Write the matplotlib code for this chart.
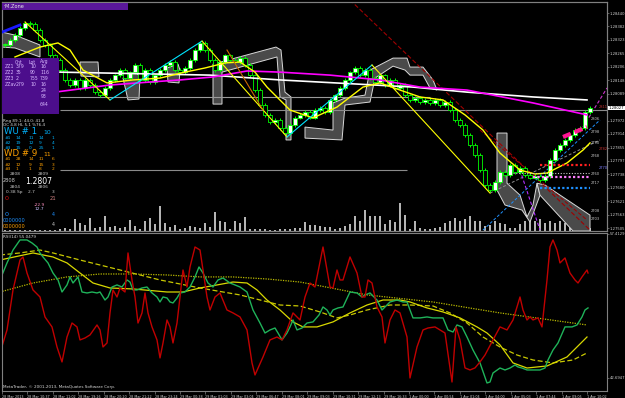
import numpy as np
import matplotlib
matplotlib.use("Agg")
import matplotlib.pyplot as plt
from matplotlib.patches import Polygon, Rectangle
from matplotlib.transforms import blended_transform_factory

# ---------------- data ----------------
closes = [
    1.28301, 1.28323, 1.28344, 1.28375, 1.28397, 1.28392, 1.28366, 1.28323, 1.28301, 1.28257,
    1.28236, 1.28192, 1.28149, 1.28127, 1.28149, 1.28114, 1.28149, 1.28127, 1.28097, 1.28083,
    1.28114, 1.28149, 1.28170, 1.28192, 1.28157, 1.28183, 1.28214, 1.28149, 1.28192, 1.28140,
    1.28170, 1.28192, 1.28214, 1.28227, 1.28192, 1.28183, 1.28201, 1.28236, 1.28279, 1.28310,
    1.28279, 1.28236, 1.28192, 1.28227, 1.28257, 1.28236, 1.28227, 1.28244, 1.28214, 1.28170,
    1.28105, 1.28040, 1.27997, 1.27966, 1.27975, 1.27940, 1.27918, 1.27953, 1.27984, 1.27997,
    1.28010, 1.27984, 1.28018, 1.28027, 1.28010, 1.28062, 1.28083, 1.28114, 1.28149, 1.28183,
    1.28201, 1.28170, 1.28192, 1.28157, 1.28140, 1.28170, 1.28127, 1.28149, 1.28114, 1.28127,
    1.28083, 1.28062, 1.28070, 1.28053, 1.28062, 1.28049, 1.28062, 1.28040, 1.28053, 1.28018,
    1.27975, 1.27953, 1.27910, 1.27866, 1.27823, 1.27757, 1.27692, 1.27670, 1.27705, 1.27749,
    1.27736, 1.27779, 1.27749, 1.27766, 1.27736, 1.27723, 1.27731, 1.27714, 1.27731, 1.27801,
    1.27844, 1.27866, 1.27888, 1.27910, 1.27931, 1.27940, 1.28010, 1.28027,
]
volumes = [
    10, 10, 10, 10, 10, 10, 10, 10, 10, 10,
    10, 20, 30, 20, 120, 80, 60, 130, 30, 40,
    150, 40, 50, 30, 40, 110, 50, 20, 100, 130,
    70, 250, 80, 40, 60, 20, 30, 50, 40, 30,
    80, 40, 190, 100, 90, 20, 100, 80, 140, 20,
    20, 20, 20, 10, 10, 20, 20, 20, 30, 30,
    90, 60, 60, 50, 40, 40, 20, 30, 50, 70,
    150, 100, 210, 150, 150, 150, 70, 110, 90, 280,
    160, 20, 100, 30, 20, 20, 30, 40, 80, 100,
    130, 100, 120, 150, 100, 100, 50, 60, 100, 80,
    70, 30, 30, 70, 100, 120, 100, 120, 80, 100,
    80, 100, 80, 100, 130, 130, 100, 30,
]

ma_yellow = [(3, 1.28249), (8, 1.28292), (11.6, 1.28310), (14, 1.28279), (16.6, 1.28192),
             (21.4, 1.28136), (26.6, 1.28149), (32, 1.28157), (37, 1.28183), (41, 1.28201),
             (45, 1.28223), (48, 1.28227), (51, 1.28183), (53.4, 1.28118), (58, 1.28018),
             (62.6, 1.27984), (67.4, 1.28031), (72.6, 1.28118), (76, 1.28136), (80, 1.28105),
             (84, 1.28075), (88.6, 1.28062), (93, 1.27997), (96.6, 1.27931), (100, 1.27831),
             (104, 1.27757), (107, 1.27740), (109.4, 1.27744), (113.4, 1.27788), (116.6, 1.27844),
             (118, 1.27875)]
ma_magenta = [(11, 1.28096), (22, 1.28127), (30, 1.28140), (36, 1.28149), (42.6, 1.28162),
              (49.4, 1.28188), (56, 1.28183), (66, 1.28170), (76, 1.28149), (84, 1.28118),
              (93.4, 1.28105), (106.6, 1.28049), (117.4, 1.27997)]
ma_white = [(12, 1.28183), (42, 1.28170), (56, 1.28149), (82.6, 1.28118), (93.4, 1.28096),
            (106.6, 1.28075), (117.4, 1.28062)]
zigzag = [(5, 1.28401), (22, 1.28062), (40.4, 1.28318), (57.4, 1.27901), (74.4, 1.28214), (98, 1.27657)]

bands = [
    [(0.4, 1.28357), (3, 1.28344), (8, 1.28301), (8, 1.28249), (3, 1.28288), (0.4, 1.28292)],
    [(16, 1.28227), (19.6, 1.28227), (19.8, 1.28162), (16.2, 1.28166)],
    [(24.6, 1.28157), (27, 1.28183), (28, 1.28166), (27.8, 1.28066), (25.6, 1.28062)],
    [(33.4, 1.28201), (35.6, 1.28218), (36, 1.28192), (35.8, 1.28136), (33.6, 1.28140)],
    [(42.6, 1.28218), (55.2, 1.28292), (56.2, 1.28279), (57, 1.28096), (58.2, 1.28075),
     (58.2, 1.27888), (57.2, 1.27888), (57.2, 1.28062), (56, 1.28075), (55.4, 1.28249),
     (44.4, 1.28183), (44.4, 1.28044), (42.6, 1.28044)],
    [(61, 1.27944), (66.6, 1.27931), (66.6, 1.28049), (69, 1.28070), (73, 1.28083),
     (74, 1.28192), (78.6, 1.28244), (81.4, 1.28244), (82, 1.28205), (84.6, 1.28205),
     (86.6, 1.28149), (87.4, 1.28105), (86, 1.28114), (84.6, 1.28170), (82, 1.28170),
     (81, 1.28192), (78.6, 1.28209), (75, 1.28157), (74, 1.28053), (69, 1.28040),
     (68.4, 1.27888), (61, 1.27896)],
    [(99.4, 1.27918), (101.4, 1.27918), (101.4, 1.27700), (104, 1.27648), (105.4, 1.27553),
     (106.6, 1.27605), (107.4, 1.27700), (108, 1.27648), (106, 1.27531), (104.4, 1.27583),
     (101, 1.27605), (99.4, 1.27670)],
    [(107.4, 1.27700), (109, 1.27692), (118, 1.27561), (118, 1.27492), (114.6, 1.27492), (108, 1.27648)],
]

red_osc = [(0, 45.25), (1.4, 47.60), (2.6, 51.69), (4, 54.75), (4.6, 55.06), (5.4, 53.42), (6.6, 51.69),
           (8, 50.97), (9, 48.93), (10.4, 47.91), (11.4, 45.86), (12.4, 44.33), (13.4, 46.88), (14.4, 48.31),
           (15.4, 47.91), (16, 46.58), (17, 46.78), (18, 47.09), (19.4, 48.11), (20, 47.60), (20.6, 45.86),
           (21.4, 46.27), (22, 49.34), (22.6, 51.69), (23.4, 50.97), (24, 51.89), (25, 51.48), (25.6, 55.47),
           (26.4, 52.71), (27, 50.97), (27.6, 48.31), (28.4, 49.34), (29, 51.38), (29.6, 49.34), (30.4, 47.91),
           (31.4, 46.58), (32, 44.74), (32.6, 46.27), (33.4, 48.62), (34, 47.91), (34.6, 46.27), (35.4, 48.31),
           (36, 50.97), (36.6, 53.73), (37.4, 51.99), (38, 54.04), (39, 56.08), (40, 55.77), (40.6, 53.73),
           (41.4, 50.97), (42, 49.64), (43, 50.97), (44, 51.38), (45.4, 49.64), (46.6, 49.34), (48, 48.93),
           (49.4, 47.60), (50.4, 44.23), (51, 43.00), (52.6, 44.84), (54, 46.58), (55.4, 46.88), (56.4, 46.58),
           (57.4, 47.60), (58.6, 49.34), (60, 48.62), (61, 50.97), (62, 52.40), (63, 51.99), (64.6, 56.08),
           (66, 51.99), (66.6, 51.89), (67.4, 53.73), (68, 52.71), (68.6, 52.71), (70, 55.06), (71.4, 53.42),
           (72.4, 50.97), (73, 50.97), (73.6, 52.71), (74.4, 52.40), (75.4, 49.95), (76.4, 48.93), (77, 46.27),
           (78, 48.62), (79, 49.64), (80, 49.34), (81.4, 46.88), (82, 42.69), (83.4, 45.86), (84.6, 47.60),
           (85.6, 47.80), (87, 47.91), (88, 47.60), (89, 47.29), (90.4, 42.28), (91.2, 47.91), (92, 46.58),
           (93, 43.72), (94, 43.51), (95, 43.72), (96, 44.33), (97, 45.04), (98.6, 46.58), (100, 47.91),
           (101.4, 47.60), (102.6, 48.62), (103.4, 49.95), (104, 50.97), (104.6, 49.64), (105.4, 48.62),
           (106, 48.93), (106.6, 48.62), (107.6, 48.83), (108.4, 47.91), (109.4, 52.71), (110, 56.08),
           (110.6, 56.80), (111.4, 55.77), (112, 54.45), (113, 54.96), (114, 53.42), (115, 52.71),
           (115.6, 52.40), (116.4, 53.02), (117.4, 53.73), (117.6, 53.42)]
green_osc = [(0, 52.71), (1.4, 54.45), (2.6, 55.77), (4, 56.80), (5.4, 56.80), (6.4, 56.49), (7.4, 56.08),
             (8, 55.47), (8.6, 55.06), (9.6, 54.45), (10.6, 53.42), (11.6, 52.71), (12.4, 51.48), (13.4, 52.20),
             (14, 53.02), (14.6, 52.40), (15.6, 53.02), (16.4, 51.48), (17.4, 51.38), (18.4, 51.48), (19.4, 51.38),
             (20, 51.48), (21, 50.66), (21.6, 50.97), (22.4, 51.99), (23.4, 52.20), (24.4, 51.99), (25.4, 52.71),
             (26, 52.50), (26.6, 51.69), (27.4, 51.69), (28.4, 51.89), (29.4, 51.99), (30.4, 51.38), (31.4, 50.97),
             (32, 50.46), (32.6, 50.97), (33.4, 50.87), (34, 50.46), (34.6, 50.36), (35.4, 50.87), (36, 51.38),
             (37, 51.48), (38, 51.99), (39, 53.02), (39.8, 54.04), (40.6, 53.42), (41.6, 52.40), (42.6, 51.99),
             (43.6, 52.71), (44.6, 52.91), (46, 52.40), (47, 52.20), (48, 51.99), (49.4, 51.48), (50.6, 49.64),
             (52, 48.31), (53, 47.29), (54, 47.60), (55, 47.80), (55.6, 47.29), (56.4, 46.58), (57.4, 47.29),
             (58, 47.91), (58.6, 48.62), (59.4, 47.60), (60.4, 47.80), (61.4, 48.31), (62.6, 48.42), (63.8, 49.13),
             (64.6, 49.95), (65.4, 49.64), (66, 49.13), (66.6, 49.64), (67.6, 49.85), (68.6, 49.95), (70, 51.48),
             (71.4, 51.38), (72.4, 50.97), (73, 51.18), (74, 51.38), (75.4, 50.66), (76.4, 49.64), (77, 49.95),
             (78, 50.46), (79.4, 50.66), (80.6, 50.46), (81.4, 50.46), (82.6, 48.83), (84, 48.83), (85.4, 48.93),
             (86.6, 48.83), (88.6, 48.83), (89.6, 47.60), (90.6, 47.39), (91.4, 48.11), (92.4, 47.91), (93.4, 46.88),
             (94.6, 45.55), (96, 44.23), (97.4, 42.18), (98, 42.28), (98.6, 43.20), (100, 43.71), (101, 43.51),
             (102, 43.71), (103, 44.02), (103.6, 43.82), (104.4, 43.71), (105.4, 43.51), (106.6, 43.51),
             (108, 43.51), (109, 43.71), (109.6, 44.53), (110.6, 45.55), (111.6, 46.27), (113, 47.91),
             (114.4, 47.91), (115.4, 48.11), (116.4, 48.93), (117, 49.64), (117.6, 49.85)]
yellow_dotted = [(0, 51.48), (6.6, 52.40), (13.4, 53.02), (20, 53.32), (26.6, 53.32), (33.4, 53.22),
                 (40, 53.02), (46.6, 53.02), (53.4, 52.81), (60, 52.50), (73.4, 51.18), (86.6, 50.46),
                 (100, 49.34), (117.4, 48.11)]
yellow_dashed = [(0, 55.26), (4, 55.47), (8, 55.77), (10.6, 55.47), (16, 54.75), (24, 53.73), (32, 52.71),
                 (40, 51.89), (48, 51.18), (56, 50.15), (60, 50.05), (64, 49.44), (67.4, 48.83), (70, 49.13),
                 (73.4, 49.64), (78, 50.15), (82, 50.15), (86.6, 50.05), (90, 49.34), (93.4, 48.31),
                 (96.6, 46.88), (100, 45.86), (103.4, 45.04), (106.6, 44.53), (110.6, 44.23), (114.6, 44.53),
                 (117.4, 45.25)]
yellow_solid = [(0, 54.75), (6.6, 55.47), (10.6, 55.06), (13.4, 54.45), (16, 53.42), (18.6, 52.40),
                (22, 51.89), (26.6, 51.79), (33.4, 51.48), (36.6, 51.48), (40, 51.89), (43.4, 52.20),
                (46.6, 52.50), (49.4, 52.40), (51.4, 51.69), (53.4, 50.66), (56, 49.64), (58.6, 48.42),
                (60.6, 47.91), (63.4, 47.91), (66.6, 48.42), (70, 49.34), (73.4, 50.15), (76.6, 50.66),
                (80, 50.66), (82, 50.46), (85.4, 49.85), (88.6, 49.44), (92, 48.83), (95.4, 47.91),
                (97.4, 47.29), (100, 46.07), (102.6, 44.23), (105.4, 43.71), (109.4, 43.92), (113.4, 44.84),
                (117.4, 46.88)]

price_ticks = [1.28440, 1.28382, 1.28323, 1.28265, 1.28206, 1.28148, 1.28089, 1.27972, 1.27914,
               1.27855, 1.27797, 1.27738, 1.27680, 1.27621, 1.27563, 1.27505]
osc_ticks = [57.4129, 42.6947]
time_labels = ["28 Mar 2013", "28 Mar 10:37", "28 Mar 11:02", "28 Mar 19:26", "28 Mar 20:20",
               "28 Mar 21:22", "28 Mar 23:24", "29 Mar 00:38", "29 Mar 01:03", "29 Mar 03:04",
               "29 Mar 06:47", "29 Mar 08:01", "29 Mar 09:03", "29 Mar 10:31", "29 Mar 12:13",
               "29 Mar 16:33", "1 Apr 00:00", "1 Apr 00:54", "1 Apr 01:04", "1 Apr 04:00",
               "1 Apr 05:03", "1 Apr 07:44", "1 Apr 09:05", "1 Apr 10:02"]

# ---------------- figure ----------------
W, H = 625, 398
fig = plt.figure(figsize=(W / 100, H / 100), dpi=100, facecolor="black")


def rect(x0, y0, x1, y1):
    return [x0 / W, 1 - y1 / H, (x1 - x0) / W, (y1 - y0) / H]


GRID = "#808080"
XLIM = (0.4, 121.4)
PLIM = (1.27492, 1.28488)
AXFS = 2.7

axv = fig.add_axes(rect(2, 2, 607, 231))
axv.set_facecolor("black")
ax = fig.add_axes(rect(2, 2, 607, 231))
ax.patch.set_visible(False)
ax2 = fig.add_axes(rect(2, 233, 607, 391))
ax2.set_facecolor("black")

for a in (axv, ax, ax2):
    a.set_xlim(*XLIM)
    for s in a.spines.values():
        s.set_color(GRID)
        s.set_linewidth(0.8)

# volume
x = np.arange(1, len(closes) + 1)
axv.bar(x, volumes, width=0.32, color="#b4b4b4", linewidth=0)
axv.set_ylim(0, 2290)
axv.set_xticks([])
axv.set_yticks([])

ax.set_ylim(*PLIM)

# gray bands
for b in bands:
    ax.add_patch(Polygon(b, closed=True, facecolor="#4a4a4a", edgecolor="#d8d8d8", lw=0.7, zorder=1))

# horizontal gray levels
ax.hlines(1.28075, 12, 86, color="#9a9a9a", lw=0.8, zorder=1)
ax.hlines(1.28018, 12, 121.4, color="#8a8a8a", lw=0.8, zorder=1)
ax.hlines(1.27757, 12, 81.4, color="#8a8a8a", lw=0.8, zorder=1)

# candles
c = np.array(closes)
o = np.concatenate([[c[0]], c[:-1]])
low = np.minimum(o, c)
h = np.maximum(np.abs(c - o), 0.00003)
face = np.where(c >= o, "white", "black")
ax.vlines(x, low - 0.00007, low + h + 0.00007, color="#00ff00", lw=0.7, zorder=3)
ax.bar(x, h, bottom=low, width=0.62, color=face, edgecolor="#00ff00", linewidth=0.6, zorder=3)

# moving averages
for data, col, lw in ((ma_white, "white", 1.2), (ma_magenta, "#ff00ff", 1.2), (ma_yellow, "#ffff00", 1.0)):
    xs, ys = zip(*data)
    ax.plot(xs, ys, color=col, lw=lw, zorder=4)

# zigzag
for i in range(len(zigzag) - 1):
    (x0, y0), (x1, y1) = zigzag[i], zigzag[i + 1]
    ax.plot([x0, x1], [y0, y1], color="#ffff00" if y1 < y0 else "#00e5ff", lw=0.8, zorder=4)
ax.plot([0.4, 4], [1.28357, 1.28388], color="#1a1aff", lw=2, zorder=4)
ax.plot([45.4, 52.6], [1.28279, 1.28018], color="#cc6a00", lw=0.8, zorder=4)

# dashed trend lines
ax.plot([70, 118], [1.28497, 1.27496], color="#a00000", lw=0.8, ls=(0, (4, 2)), zorder=2)
ax.plot([96, 117.4], [1.27931, 1.27540], color="#a00000", lw=0.7, ls=(0, (4, 2)), zorder=2)
ax.plot([96.6, 120], [1.27496, 1.27975], color="#1e90ff", lw=0.7, ls=(0, (3, 2)), zorder=2)
ax.plot([98, 120], [1.27657, 1.27888], color="#909090", lw=0.7, ls=(0, (3, 2)), zorder=2)
ax.plot([116.6, 121.4], [1.27944, 1.28114], color="#cc33cc", lw=0.8, ls=(0, (3, 2)), zorder=2)
ax.plot([104, 108], [1.27757, 1.27496], color="#b030ff", lw=0.8, ls=(0, (3, 2)), zorder=2)
ax.plot([112.6, 117.4], [1.27901, 1.27944], color="#ff1493", lw=3, ls=(0, (2, 1)), zorder=5)

# dotted levels
ax.hlines(1.27779, 108, 118, color="#ff2020", lw=1.6, linestyles=(0, (1, 1)), zorder=5)
ax.hlines(1.27744, 102.6, 118, color="#c8c8c8", lw=0.8, linestyles=(0, (1, 1.5)), zorder=5)
ax.hlines(1.27727, 106.6, 118, color="#ff80ff", lw=1.6, linestyles=(0, (1, 1)), zorder=5)
ax.hlines(1.27679, 108, 118, color="#1e90ff", lw=1.6, linestyles=(0, (1, 1)), zorder=5)

# right price axis
ax.yaxis.tick_right()
ax.set_yticks(price_ticks)
ax.set_yticklabels([f"{v:.5f}" for v in price_ticks])
ax.tick_params(axis="y", labelsize=AXFS, labelcolor="#d0d0d0", color=GRID, length=1.2, width=0.5, pad=0.8)
ax.set_xticks([])
trans = blended_transform_factory(ax.transAxes, ax.transData)
ax.text(1.003, closes[-1], f"{closes[-1]:.5f}", transform=trans, fontsize=AXFS, color="black",
        va="center", ha="left", bbox=dict(facecolor="white", edgecolor="none", pad=0.3), zorder=6)

# lower oscillator panel
ax2.set_ylim(41.36, 57.51)
for data, col, lw, ls in ((yellow_dotted, "#b8b800", 0.9, (0, (1, 1))),
                          (yellow_dashed, "#c8c800", 0.9, (0, (4, 2))),
                          (yellow_solid, "#d8d800", 0.9, "-"),
                          (green_osc, "#1fb35a", 1.0, "-"),
                          (red_osc, "#c00000", 1.0, "-")):
    xs, ys = zip(*data)
    ax2.plot(xs, ys, color=col, lw=lw, ls=ls)
ax2.yaxis.tick_right()
ax2.set_yticks(osc_ticks)
ax2.set_yticklabels([f"{v:.4f}" for v in osc_ticks])
ax2.tick_params(axis="y", labelsize=AXFS, labelcolor="#d0d0d0", color=GRID, length=1.2, width=0.5, pad=0.8)
tick_pos = np.linspace(0.4, 117.4, len(time_labels))
ax2.set_xticks(tick_pos)
ax2.set_xticklabels(time_labels, ha="left")
ax2.tick_params(axis="x", labelsize=2.45, labelcolor="#d0d0d0", color=GRID, length=2, width=0.5, pad=0.6)


# ---------------- texts & info panel ----------------
def t(xp, yp, s, col="#d8d8d8", fs=3.3, **kw):
    fig.text(xp / W, 1 - yp / H, s, color=col, fontsize=fs, va="center", ha="left", **kw)


fig.patches.append(Rectangle((2 / W, 1 - 10 / H), 126 / W, 7 / H, transform=fig.transFigure,
                             facecolor="#5a189a", edgecolor="none", zorder=2))
t(4, 6.5, "\u207fM.Zone", "#e8e8e8", 3.6)
fig.patches.append(Rectangle((2 / W, 1 - 114 / H), 57 / W, 56 / H, transform=fig.transFigure,
                             facecolor="#4c0e8c", edgecolor="none", zorder=2))
LAV = "#d8b8ff"
t(15, 62, "Cnt", LAV); t(29, 62, "Lot", LAV); t(40, 62, "Avg", LAV)
rows = [("ZZ1", "379", "10", "16"), ("ZZ2", "35", "90", "116"), ("ZZ3", "2", "755", "739"), ("ZZav", "279", "10", "16")]
for k, (a, b, cc, d) in enumerate(rows):
    yy = 67 + 6 * k
    t(5, yy, a, LAV); t(16, yy, b, LAV); t(30, yy, cc, LAV); t(40, yy, d, LAV)
t(41, 91, "24", LAV); t(41, 97, "93", LAV); t(40, 104, "644", LAV)

t(3, 121, "Rng 89.1: 44.0: 41.8", "#d8d8d8", 3.0)
t(3, 125.5, "OC 4.8 HL 5.1 %76.4", "#d8d8d8", 3.0)
CY = "#00b4ff"
OR = "#ffa000"
t(4, 132, "WU # 1", CY, 6.2)
t(43, 133, "10", CY, 4.5)
for k, r in enumerate([("#1", "14", "11", "14", "1"), ("#2", "19", "12", "9", "4"), ("#3", "15", "0", "25", "1")]):
    yy = 137.5 + 5 * k
    for xx, s in zip((5, 16, 29, 39, 52), r):
        t(xx, yy, s, CY, 3.2)
t(4, 154, "WD # 9", OR, 6.2)
t(43, 155, "11", OR, 4.5)
for k, r in enumerate([("#1", "28", "14", "11", "6"), ("#2", "12", "9", "15", "3"), ("#3", "1", "1", "8", "2")]):
    yy = 159.5 + 5 * k
    for xx, s in zip((5, 16, 29, 39, 52), r):
        t(xx, yy, s, OR, 3.2)
t(10, 174, "2808", "#c8c8c8", 3.2); t(38, 174, "2809", "#c8c8c8", 3.2)
t(3, 181, "2808", "#c8c8c8", 3.6); t(25, 181, "1.2807", "white", 5.6)
t(10, 187, "2804", "#c8c8c8", 3.2); t(38, 187, "2806", "#c8c8c8", 3.2)
t(6, 192, "0.38 Sp    2.7", "#c8c8c8", 3.2); t(52, 192, "3", "#c8c8c8", 3.2)
t(5, 199, "0", "#d01010", 4.6); t(50, 199, "21", "#d08080", 3.8)
t(34, 205, "-22.9", "#ff90c0", 3.2); t(35, 209.5, "12.7", "#c8c0ff", 3.2)
t(5, 215, "0", "#1e90ff", 4.6); t(52, 215, "4", "#1e90ff", 3.4)
t(3, 221, "0000000", "#1e90ff", 3.6)
t(3, 226.5, "0000000", OR, 3.6); t(52, 225, "4", "#c8c8c8", 3.4)

# small labels at right of main panel
for xx, yy, s, col in ((591, 119, "2806", "#c8c8c8"), (591, 132, "2798", "#c8c8c8"),
                       (591, 143, "2790", "#c8c8c8"), (591, 156, "2768", "#c8c8c8"),
                       (591, 174, "2760", "#c8c8c8"), (591, 183, "2717", "#c8c8c8"),
                       (599, 107, "2811", "#c03030"), (599, 149, "2782", "#c03030"),
                       (599, 168, "2770", "#8080ff"), (591, 211, "2708", "#c8c8c8"),
                       (591, 219, "2703", "#c8c8c8")):
    t(xx, yy, s, col, 2.6)

t(3, 237, "RSI(14) 55.0479", "#d8d8d8", 3.0)
t(3, 387, "MetaTrader, \u00a9 2001-2013, MetaQuotes Software Corp.", "#d8d8d8", 3.0)

fig.savefig("out.png", dpi=100, facecolor="black")
